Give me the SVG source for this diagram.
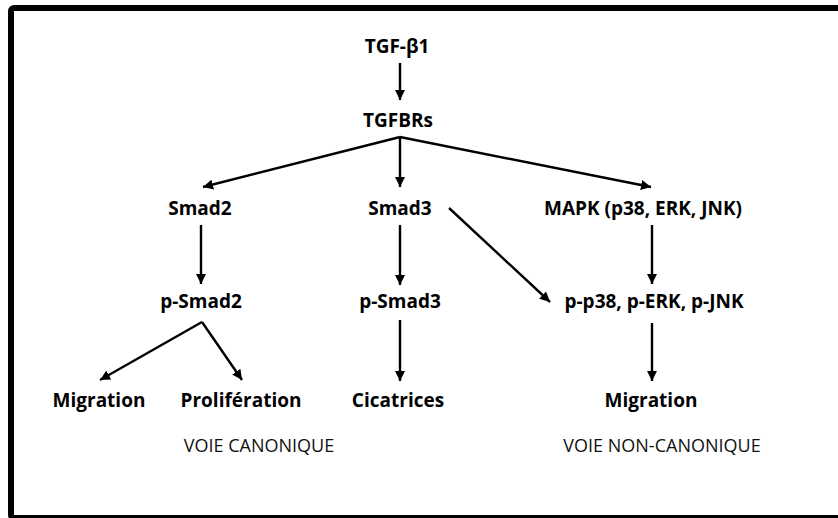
<svg xmlns="http://www.w3.org/2000/svg" width="838" height="518" viewBox="0 0 838 518">
<defs>
<marker id="ah" viewBox="0 0 10 10" refX="10" refY="5" markerWidth="4.2" markerHeight="4.2" markerUnits="strokeWidth" orient="auto">
<path d="M0,0 L10,5 L0,10 z" fill="#000"/>
</marker>
<style>
.n{font-family:"Open Sans","Liberation Sans",sans-serif;font-weight:bold;font-size:19px;fill:#000;text-anchor:middle}
.v{font-family:"Open Sans","Liberation Sans",sans-serif;font-size:18px;fill:#111;text-anchor:middle}
.c line{stroke:#000;stroke-width:2.4;fill:none}
.c .a{marker-end:url(#ah)}
</style>
</defs>
<rect width="838" height="518" fill="#fff"/>
<rect x="11" y="8" width="840" height="510" rx="3" fill="none" stroke="#000" stroke-width="6"/>
<g class="c" id="connectors">
<line class="a" x1="400" y1="63" x2="400" y2="100"/>
<line class="a" x1="400" y1="137" x2="203" y2="187"/>
<line class="a" x1="400" y1="137" x2="400" y2="187"/>
<line class="a" x1="400" y1="137" x2="651" y2="187"/>
<line class="a" x1="201" y1="225" x2="201" y2="284"/>
<line class="a" x1="400" y1="225" x2="400" y2="285"/>
<line class="a" x1="449" y1="208" x2="550" y2="302"/>
<line class="a" x1="652" y1="225" x2="652" y2="284"/>
<line class="a" x1="202" y1="322" x2="100" y2="380"/>
<line class="a" x1="202" y1="322" x2="242" y2="380"/>
<line class="a" x1="400" y1="320" x2="400" y2="381"/>
<line class="a" x1="652" y1="323" x2="652" y2="381"/>
</g>
<g id="tgfb1"><text class="n" x="397" y="53">TGF-β1</text></g>
<g id="tgfbrs"><text class="n" x="398" y="127">TGFBRs</text></g>
<g id="smad2"><text class="n" x="200" y="215">Smad2</text></g>
<g id="smad3"><text class="n" x="400" y="215">Smad3</text></g>
<g id="mapk"><text class="n" x="643" y="215">MAPK (p38, ERK, JNK)</text></g>
<g id="psmad2"><text class="n" x="201" y="308">p-Smad2</text></g>
<g id="psmad3"><text class="n" x="400" y="308">p-Smad3</text></g>
<g id="pp38"><text class="n" x="654" y="308">p-p38, p-ERK, p-JNK</text></g>
<g id="migration1"><text class="n" x="99" y="407">Migration</text></g>
<g id="proliferation"><text class="n" x="241" y="407">Prolifération</text></g>
<g id="cicatrices"><text class="n" x="398" y="407">Cicatrices</text></g>
<g id="migration2"><text class="n" x="651" y="407">Migration</text></g>
<g id="voie-canonique"><text class="v" x="259" y="452">VOIE CANONIQUE</text></g>
<g id="voie-non-canonique"><text class="v" x="662" y="452">VOIE NON-CANONIQUE</text></g>
</svg>
